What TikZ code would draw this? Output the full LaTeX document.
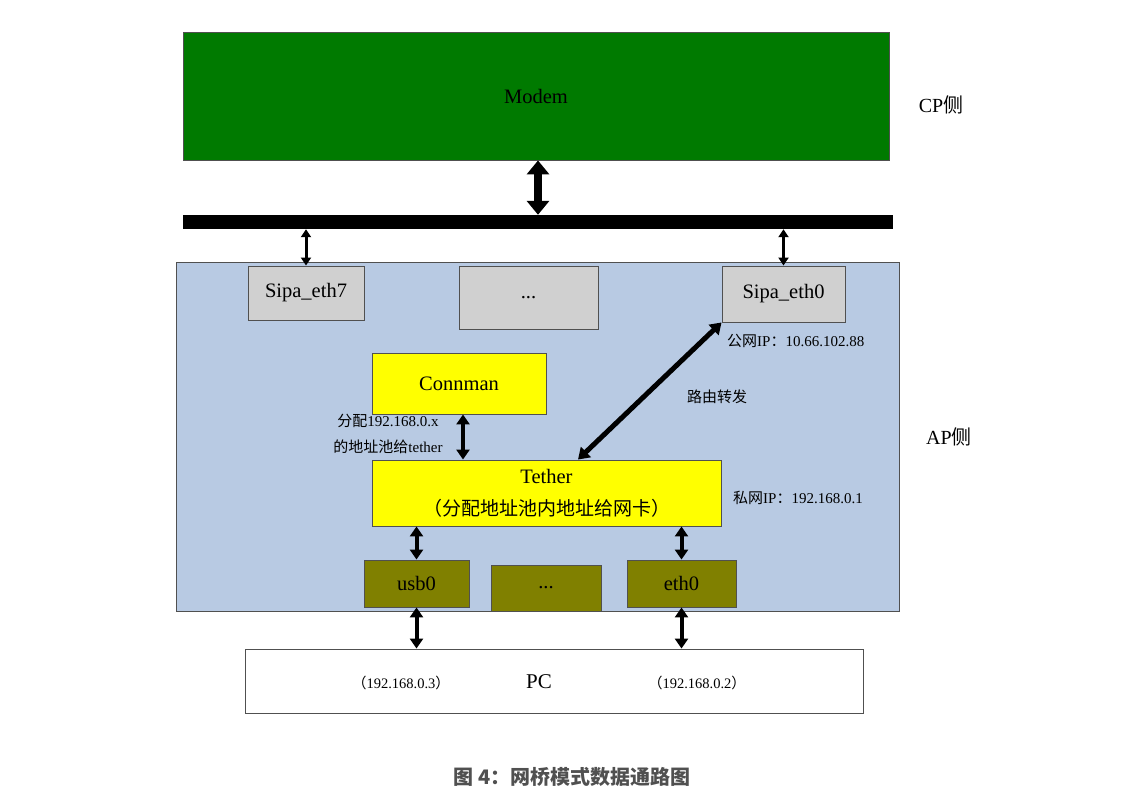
\documentclass[tikz,border=0pt]{standalone}
\usepackage{fontspec}
\setmainfont{Liberation Serif}
\newfontfamily\cjkf{Noto Sans CJK SC}
\usetikzlibrary{arrows.meta}
\definecolor{modemgreen}{RGB}{0,122,0}
\definecolor{apblue}{RGB}{184,202,227}
\definecolor{boxgray}{RGB}{208,208,208}
\definecolor{olivebox}{RGB}{128,128,0}
\definecolor{pureyellow}{RGB}{255,255,0}
\definecolor{edgegray}{RGB}{80,80,80}
\definecolor{capgray}{RGB}{80,80,80}
\newcommand\txtL{\fontsize{20.5}{24}\selectfont}
\newcommand\txtS{\fontsize{15}{18}\selectfont}
\begin{document}
\begin{tikzpicture}[x=1pt,y=-1pt,
  box/.style={draw=edgegray,line width=0.9pt,inner sep=0pt,anchor=center,font=\txtL},
  lbl/.style={inner sep=0pt,font=\txtS},
  dblbig/.style={line width=8pt,{Triangle[width=22pt,length=14pt]}-{Triangle[width=22pt,length=14pt]}},
  dblsm/.style={line width=3pt,{Triangle[width=10pt,length=8pt]}-{Triangle[width=10pt,length=8pt]}},
  dblmid/.style={line width=4pt,{Triangle[width=13pt,length=10pt]}-{Triangle[width=13pt,length=10pt]}},
  dbldiag/.style={line width=5pt,{Triangle[width=14pt,length=11pt]}-{Triangle[width=14pt,length=11pt]}}
]
\useasboundingbox[fill=white] (0,0) rectangle (1146,803);

% CP side
\node[box,fill=modemgreen,minimum width=706pt,minimum height=128pt] (modem) at (536,96) {Modem};
\node[fill=black,inner sep=0pt,minimum width=710pt,minimum height=14pt] (bar) at (538,222) {};
\node[inner sep=0pt,font=\fontsize{20}{24}\selectfont] (cp) at (941,105) {CP{\cjkf 侧}};

% AP side
\node[box,fill=apblue,minimum width=723pt,minimum height=349pt] (ap) at (537.5,436.5) {};
\node[inner sep=0pt,font=\fontsize{20}{24}\selectfont] (apl) at (949,437) {AP{\cjkf 侧}};

\node[box,fill=boxgray,minimum width=116pt,minimum height=54pt] (sipa7) at (306,293) {Sipa\_eth7};
\node[box,fill=boxgray,minimum width=139pt,minimum height=63pt] (dots1) at (528.5,297.5) {...};
\node[box,fill=boxgray,minimum width=123pt,minimum height=56pt] (sipa0) at (783.5,294) {Sipa\_eth0};
\node[lbl,anchor=west] (pubip) at (727,341) {{\cjkf 公网}IP{\cjkf ：}10.66.102.88};

\node[box,fill=pureyellow,minimum width=174pt,minimum height=61pt] (connman) at (459,383.5) {Connman};
\node[lbl,align=center,font=\fontsize{15}{26}\selectfont] (pool) at (388,434) {{\cjkf 分配}192.168.0.x\\{\cjkf 的地址池给}tether};
\node[lbl] (route) at (717,397) {\cjkf 路由转发};

\node[box,fill=pureyellow,minimum width=349pt,minimum height=66pt,align=center,font=\fontsize{20.5}{32}\selectfont] (tether) at (546.5,493) {Tether\\{\cjkf\fontsize{19}{32}\selectfont （分配地址池内地址给网卡）}};
\node[lbl,anchor=west] (privip) at (733,498) {{\cjkf 私网}IP{\cjkf ：}192.168.0.1};

\node[box,fill=olivebox,minimum width=105pt,minimum height=47pt] (usb0) at (416.5,583.5) {usb0};
\node[box,fill=olivebox,minimum width=110pt,minimum height=46pt] (dots2) at (546,588) {...};
\node[box,fill=olivebox,minimum width=109pt,minimum height=47pt] (eth0) at (681.5,583.5) {eth0};

% PC
\node[box,fill=white,minimum width=618pt,minimum height=64pt] (pc) at (554,681) {};
\node[inner sep=0pt,font=\fontsize{21}{24}\selectfont] (pcl) at (539,682) {PC};
\node[lbl,font=\fontsize{14.5}{18}\selectfont] (ip3) at (401,683) {{\cjkf （}192.168.0.3{\cjkf ）}};
\node[lbl,font=\fontsize{14.5}{18}\selectfont] (ip2) at (697,683) {{\cjkf （}192.168.0.2{\cjkf ）}};

% caption
\node[inner sep=0pt,text=capgray,font=\cjkf\bfseries\fontsize{20}{24}\selectfont] (cap) at (572,777) {图 4：网桥模式数据通路图};

% connectors
\draw[dblbig] ([xshift=2pt]modem.south) -- ([xshift=2pt]modem.south |- bar.north);
\draw[dblsm] (sipa7.north |- bar.south) -- (sipa7.north);
\draw[dblsm] (sipa0.north |- bar.south) -- (sipa0.north);
\draw[dbldiag] (sipa0.south west) -- ([xshift=31.5pt]tether.north);
\draw[dblmid] ([xshift=4pt]connman.south) -- ([xshift=4pt]connman.south |- tether.north);
\draw[dblmid] (usb0.north |- tether.south) -- (usb0.north);
\draw[dblmid] (eth0.north |- tether.south) -- (eth0.north);
\draw[dblmid] (usb0.south) -- (usb0.south |- pc.north);
\draw[dblmid] (eth0.south) -- (eth0.south |- pc.north);
\end{tikzpicture}
\end{document}
